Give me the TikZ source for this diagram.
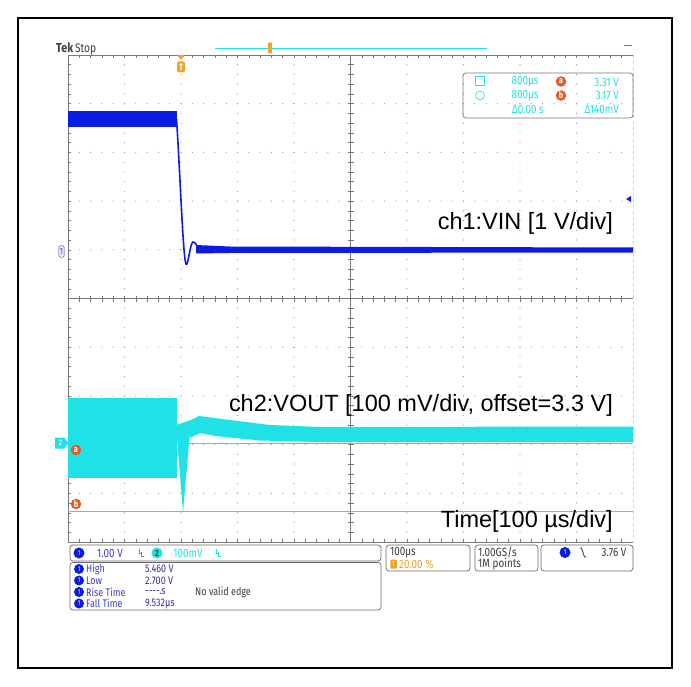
\documentclass[tikz,border=0pt]{standalone}
\usepackage{fontspec}
\setmainfont{Liberation Sans}
\newfontfamily\scopeFont[FakeStretch=0.82]{Fira Sans}
\usetikzlibrary{positioning}

\definecolor{chOne}{RGB}{12,28,228}
\definecolor{chTwo}{RGB}{32,226,230}
\definecolor{trigOrange}{RGB}{242,162,40}
\definecolor{cursorRed}{RGB}{232,88,36}
\definecolor{gridGray}{RGB}{150,150,150}
\definecolor{edgeGray}{RGB}{120,120,120}
\definecolor{panelGray}{RGB}{105,105,105}
\definecolor{readBlue}{RGB}{62,62,196}
\definecolor{tekGray}{RGB}{60,60,60}

\tikzset{
  scopeText/.style={font=\scopeFont\fontsize{12}{12}\selectfont, inner sep=0pt},
  measText/.style={font=\scopeFont\fontsize{11}{11}\selectfont, inner sep=0pt, anchor=west},
  bigLabel/.style={font=\fontsize{23.5}{24}\selectfont, anchor=base east, inner sep=0pt},
  panelBox/.style={draw=panelGray, line width=0.7pt, rounded corners=3pt},
  oneBadge/.style={circle, fill=chOne, text=white, inner sep=0pt, minimum size=10pt, font=\scopeFont\fontsize{7}{7}\selectfont},
  cursorBadge/.style={circle, fill=cursorRed, text=white, inner sep=0pt, minimum size=10.5pt, font=\scopeFont\bfseries\fontsize{9}{9}\selectfont},
}

\begin{document}
\begin{tikzpicture}[x=1pt,y=-1pt]
% Parameters
\def\gLeft{68};
\def\gRight{633};
\def\gTop{55};
\def\gBottom{542};
\pgfmathsetmacro\divX{(\gRight-\gLeft)/10}
\pgfmathsetmacro\divY{(\gBottom-\gTop)/10}
\pgfmathsetmacro\midX{(\gRight+\gLeft)/2}
\pgfmathsetmacro\midY{(\gBottom+\gTop)/2}

% Page and frame
\fill[white] (0,0) rectangle (691,687);
\useasboundingbox (0,0) rectangle (691,687);
\draw[line width=1.5pt] (18,18) rectangle (672,668);

% Grid dots
\foreach \i in {1,...,9}{
  \foreach \j in {1,...,49}{
    \fill[gridGray] (\gLeft+\i*\divX, \gTop+\j*\divY/5) circle (0.6pt);
    \fill[gridGray] (\gLeft+\j*\divX/5, \gTop+\i*\divY) circle (0.6pt);
  }
}

% Centre lines, edges and ticks
\draw[edgeGray, line width=0.6pt] (\gLeft,\midY) -- (\gRight,\midY);
\draw[edgeGray, line width=0.6pt] (\midX,\gTop) -- (\midX,\gBottom);
\draw[edgeGray, line width=0.8pt] (\gLeft,\gBottom) -- (\gLeft,\gTop) -- (\gRight,\gTop);
\draw[edgeGray, line width=0.8pt] (\gLeft,\gBottom) -- (\gRight,\gBottom);
\draw[chTwo!55, line width=0.6pt, dashed] (\gRight,\gTop) -- (\gRight,\gBottom);
\foreach \j in {1,...,49}{
  \draw[edgeGray, line width=0.5pt] (\gLeft+\j*\divX/5, \midY-3) -- ++(0,6);
  \draw[edgeGray, line width=0.5pt] (\midX-3, \gTop+\j*\divY/5) -- ++(6,0);
  \draw[edgeGray, line width=0.5pt] (\gLeft+\j*\divX/5, \gTop) -- ++(0,3);
  \draw[edgeGray, line width=0.5pt] (\gLeft+\j*\divX/5, \gBottom) -- ++(0,-3);
  \draw[edgeGray, line width=0.5pt] (\gLeft, \gTop+\j*\divY/5) -- ++(3,0);
}

% Header
\node[font=\scopeFont\bfseries\fontsize{13}{13}\selectfont, text=tekGray, anchor=base west, inner sep=0pt] (tekLabel) at (56,53) {Tek};
\node[font=\scopeFont\fontsize{12.5}{12}\selectfont, text=tekGray, inner sep=0pt, right=1.5pt of tekLabel.base east, anchor=base west] (stopLabel) {Stop};
\draw[chTwo, line width=0.8pt] (215,48) -- (487,48);
\node[fill=trigOrange, rounded corners=1pt, minimum width=4pt, minimum height=11pt, inner sep=0pt] (recMark) at (270,48) {};
\draw[edgeGray, line width=1pt] (624,46) -- (632,46);

% Trigger marker
\fill[trigOrange] (177,55) -- (185,55) -- (181,60) -- cycle;
\node[fill=trigOrange, rounded corners=1.5pt, text=white, inner sep=0.5pt, minimum width=8pt, minimum height=11pt, font=\scopeFont\bfseries\fontsize{9}{9}\selectfont] (trigMark) at (181,67) {T};

% Cursor readout
\draw[panelBox, draw=edgeGray] (463,73) rectangle (633,118);
\draw[chTwo, line width=0.7pt] (475.5,76.5) rectangle (484.5,85.5);
\draw[chTwo, line width=0.7pt] (480,95.5) circle (4.5pt);
\node[scopeText, text=chTwo] (timeA) at (525,82) {800µs};
\node[scopeText, text=chTwo] (timeB) at (525,95.5) {800µs};
\node[cursorBadge] (readA) at (561,81.5) {a};
\node[cursorBadge] (readB) at (561,95.5) {b};
\node[scopeText, text=chTwo, anchor=east] (voltA) at (619,82) {3.31 V};
\node[scopeText, text=chTwo, anchor=east] (voltB) at (619,95.5) {3.17 V};
\node[scopeText, text=chTwo] (deltaT) at (528,109.5) {Δ0.00 s};
\node[scopeText, text=chTwo, anchor=east] (deltaV) at (619,109.5) {Δ140mV};

% Cursors
\draw[chTwo, line width=0.8pt] (\gLeft,443) -- (\gRight,443);
\draw[chTwo, line width=0.8pt] (\gLeft,511) -- (\gRight,511);

% Waveforms
\fill[chOne] (\gLeft,111) rectangle (177,127); % VIN high
\draw[chOne, line width=1.6pt] (176.5,119) .. controls (180,170) and (183,258) .. (186,264)
  .. controls (188,268) and (190,243) .. (193,242) .. controls (196,241) and (197,250) .. (203,249);
\fill[chOne] (196,245) -- (230,246.5) -- (\gRight,247.5) -- (\gRight,252.5) -- (230,253) -- (196,253.5) -- cycle; % VIN low
\fill[chTwo] (\gLeft,398) rectangle (177,478); % VOUT ripple
\fill[chTwo] (176,425) -- (183,512) -- (191,420) -- cycle; % dip
\fill[chTwo] (188,425) -- (191,420) -- (199,416) -- (230,420) -- (270,425) -- (320,427) -- (\gRight,426.5)
  -- (\gRight,442) -- (320,442) -- (260,440.5) -- (215,436) -- (200,433) -- (190,438) -- cycle;

% Channel markers
\node[draw=readBlue, fill=blue!8, rounded corners=1.5pt, inner sep=1pt, minimum height=12pt, font=\scopeFont\fontsize{9}{9}\selectfont, text=readBlue] (chOneMark) at (61.5,251.5) {1};
\fill[chOne] (626,199) -- (631,196) -- (631,202) -- cycle;
\fill[chTwo] (55,437.5) -- (64,437.5) -- (68.5,443) -- (64,448.5) -- (55,448.5) -- cycle;
\node[font=\scopeFont\fontsize{8}{8}\selectfont, text=white, inner sep=0pt] (chTwoMark) at (60.5,443) {2};
\node[cursorBadge] (cursorA) at (76,450) {a};
\node[cursorBadge] (cursorB) at (76,504) {b};

% Labels
\node[bigLabel] (vinLabel) at (613,230) {ch1:VIN [1 V/div]};
\node[bigLabel] (voutLabel) at (613,411) {ch2:VOUT [100 mV/div, offset=3.3 V]};
\node[bigLabel] (timeLabel) at (613,527) {Time[100 µs/div]};

% Channel panel
\draw[panelBox] (70,545) rectangle (381,561);
\node[oneBadge, minimum size=11pt] (vertOne) at (79,553) {1};
\node[scopeText, text=readBlue] (scaleOne) at (110,553) {1.00 V};
\draw[readBlue!70, line width=0.5pt] (139,549) -- (139,553) -- (141.5,553) (141.5,552) -- (141.5,556) -- (144,556);
\node[circle, fill=chTwo, text=tekGray, inner sep=0pt, minimum size=11pt, font=\scopeFont\bfseries\fontsize{9}{9}\selectfont] (vertTwo) at (157,553) {2};
\node[scopeText, text=chTwo] (scaleTwo) at (188,553) {100mV};
\draw[chTwo, line width=0.5pt] (216,549) -- (216,553) -- (218.5,553) (218.5,552) -- (218.5,556) -- (221,556);

% Measurements
\draw[panelBox] (70,562.5) rectangle (381,610);
\foreach \row/\what/\value [count=\k] in {569/High/5.460 V, 580.5/Low/2.700 V, 592/Rise Time/{----.s}, 603.5/Fall Time/9.532µs}{
  \node[oneBadge] (measBadge\k) at (79,\row) {1};
  \node[measText, text=readBlue] (measName\k) at (86,\row) {\what};
  \node[measText, text=readBlue!80!black] (measValue\k) at (145,\row) {\value};
}
\node[measText, text=tekGray] (noEdge) at (195,592) {No valid edge};

% Timebase, sampling and trigger panels
\draw[panelBox] (386,545) rectangle (470,571);
\node[scopeText, text=tekGray, anchor=west] (horScale) at (390,552.5) {100µs};
\node[fill=trigOrange, rounded corners=0.8pt, inner sep=0pt, minimum width=6.5pt, minimum height=9pt, text=white, font=\scopeFont\fontsize{7}{7}\selectfont] (horTrig) at (393.5,564) {T};
\node[scopeText, text=trigOrange, anchor=west] (horPos) at (399,564) {20.00 \%};
\draw[panelBox] (475,545) rectangle (538,571);
\node[scopeText, text=tekGray, anchor=west] (sampleRate) at (478,552.5) {1.00GS/s};
\node[scopeText, text=tekGray, anchor=west] (recLength) at (478,564) {1M points};
\draw[panelBox] (541,545) rectangle (633,571);
\node[oneBadge, minimum size=11pt] (trigSource) at (565,552.5) {1};
\draw[tekGray, line width=0.9pt] (579.5,548) -- (581.5,548) -- (584.5,557) -- (586.5,557);
\node[scopeText, text=tekGray] (trigLevel) at (614,552.5) {3.76 V};
\end{tikzpicture}
\end{document}
